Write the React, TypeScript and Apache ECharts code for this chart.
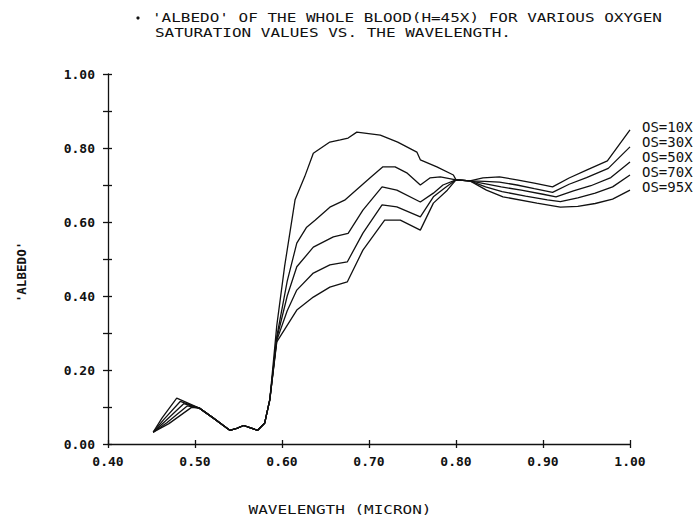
import React, { useEffect, useRef } from "react";
import * as echarts from "echarts";

type P = [number, number];

const seriesNames = ["OS=10X", "OS=30X", "OS=50X", "OS=70X", "OS=95X"];
const xTicks = [0.4, 0.5, 0.6, 0.7, 0.8, 0.9, 1.0];
const titleLines = [
  "'ALBEDO' OF THE WHOLE BLOOD(H=45X) FOR VARIOUS OXYGEN",
  "SATURATION VALUES VS. THE WAVELENGTH.",
];
const xAxisTitle = "WAVELENGTH (MICRON)";
const yAxisTitle = "'ALBEDO'";

// blue-green hump (per curve)
const bump10: P[] = [[0.452, 0.032], [0.47, 0.055], [0.496, 0.099], [0.505, 0.097]];
const bump30: P[] = [[0.452, 0.032], [0.468, 0.058], [0.491, 0.103], [0.505, 0.097]];
const bump50: P[] = [[0.452, 0.032], [0.466, 0.062], [0.487, 0.109], [0.505, 0.097]];
const bump70: P[] = [[0.452, 0.032], [0.464, 0.066], [0.483, 0.115], [0.505, 0.097]];
const bump95: P[] = [[0.452, 0.032], [0.462, 0.07], [0.479, 0.124], [0.505, 0.097]];

// common absorption trough (all curves overlap)
const trough: P[] = [
  [0.52, 0.072], [0.54, 0.037], [0.548, 0.042], [0.556, 0.05], [0.563, 0.044],
  [0.572, 0.037], [0.58, 0.056], [0.586, 0.12],
];

// red rise and shoulder
const rise10: P[] = [
  [0.594, 0.32], [0.603, 0.48], [0.615, 0.66], [0.626, 0.722], [0.636, 0.786],
  [0.655, 0.816], [0.667, 0.822], [0.676, 0.827], [0.686, 0.843], [0.713, 0.835],
  [0.733, 0.816], [0.755, 0.789], [0.759, 0.768], [0.778, 0.749], [0.797, 0.727], [0.8, 0.714],
];
const rise30: P[] = [
  [0.594, 0.29], [0.606, 0.44], [0.617, 0.543], [0.628, 0.585], [0.638, 0.605],
  [0.655, 0.64], [0.672, 0.659], [0.701, 0.719], [0.716, 0.749], [0.73, 0.749],
  [0.744, 0.732], [0.759, 0.7], [0.77, 0.719], [0.782, 0.722], [0.8, 0.714],
];
const rise50: P[] = [
  [0.594, 0.285], [0.606, 0.4], [0.617, 0.479], [0.636, 0.532], [0.659, 0.56],
  [0.676, 0.569], [0.693, 0.632], [0.715, 0.695], [0.732, 0.686], [0.759, 0.654],
  [0.774, 0.678], [0.785, 0.7], [0.8, 0.714],
];
const rise70: P[] = [
  [0.594, 0.28], [0.606, 0.36], [0.617, 0.416], [0.636, 0.462], [0.655, 0.484],
  [0.675, 0.492], [0.693, 0.57], [0.715, 0.646], [0.732, 0.641], [0.759, 0.614],
  [0.774, 0.668], [0.787, 0.692], [0.8, 0.714],
];
const rise95: P[] = [
  [0.594, 0.276], [0.617, 0.362], [0.636, 0.397], [0.655, 0.424], [0.675, 0.438],
  [0.693, 0.524], [0.718, 0.605], [0.736, 0.605], [0.759, 0.578], [0.774, 0.651],
  [0.79, 0.686], [0.8, 0.714],
];

// near-infrared tail
const knot: P[] = [[0.816, 0.711]];
const tail10: P[] = [
  [0.831, 0.719], [0.85, 0.722], [0.87, 0.714], [0.89, 0.705], [0.911, 0.695],
  [0.93, 0.719], [0.95, 0.74], [0.974, 0.765], [1.0, 0.849],
];
const tail30: P[] = [
  [0.833, 0.71], [0.85, 0.708], [0.87, 0.7], [0.89, 0.69], [0.911, 0.68],
  [0.93, 0.702], [0.95, 0.72], [0.975, 0.745], [1.0, 0.803],
];
const tail50: P[] = [
  [0.834, 0.703], [0.852, 0.695], [0.875, 0.686], [0.9, 0.675], [0.915, 0.668],
  [0.935, 0.684], [0.955, 0.698], [0.978, 0.72], [1.0, 0.762],
];
const tail70: P[] = [
  [0.834, 0.695], [0.853, 0.682], [0.88, 0.67], [0.905, 0.66], [0.92, 0.655],
  [0.94, 0.665], [0.96, 0.678], [0.98, 0.695], [1.0, 0.727],
];
const tail95: P[] = [
  [0.835, 0.686], [0.854, 0.668], [0.893, 0.651], [0.92, 0.64], [0.94, 0.642],
  [0.96, 0.65], [0.98, 0.662], [1.0, 0.686],
];

const curves: P[][] = [
  [...bump10, ...trough, ...rise10, ...knot, ...tail10],
  [...bump30, ...trough, ...rise30, ...knot, ...tail30],
  [...bump50, ...trough, ...rise50, ...knot, ...tail50],
  [...bump70, ...trough, ...rise70, ...knot, ...tail70],
  [...bump95, ...trough, ...rise95, ...knot, ...tail95],
];

const MONO = '"DejaVu Sans Mono", "Liberation Mono", monospace';
const INK = "#111";

export default function App() {
  const ref = useRef<HTMLDivElement>(null);
  useEffect(() => {
    if (!ref.current) return;
    const chart = echarts.init(ref.current, undefined, { renderer: "svg" });
    const axisText = { fontFamily: MONO, fontSize: 13, fontWeight: "bold" as const, color: INK };
    const stretch = 1.23;
    chart.setOption({
      animation: false,
      backgroundColor: "#fff",
      grid: { left: 108, top: 74, width: 522, height: 370, containLabel: false },
      legend: {
        orient: "vertical",
        left: 632,
        top: 114,
        icon: "rect",
        itemWidth: 0,
        itemHeight: 0,
        itemGap: 0,
        selectedMode: false,
        data: seriesNames,
        textStyle: { fontFamily: MONO, fontSize: 14, lineHeight: 15, color: INK },
      },
      xAxis: [
        {
          type: "value",
          min: 0.4,
          max: 1.0,
          interval: 0.1,
          position: "bottom",
          axisLine: { show: true, onZero: false, lineStyle: { color: INK, width: 1.3 } },
          axisTick: { show: true, inside: false, length: 4, lineStyle: { color: INK, width: 1.3 } },
          axisLabel: {
            ...axisText,
            margin: 11,
            showMaxLabel: true,
            showMinLabel: true,
            formatter: (v: number) => {
              const t = xTicks.find((x) => Math.abs(x - v) < 1e-6);
              return t === undefined ? "" : t.toFixed(2);
            },
          },
          splitLine: { show: false },
        },
        {
          type: "value",
          min: 0.4,
          max: 1.0,
          interval: 0.1,
          position: "bottom",
          axisLine: { show: false, onZero: false },
          axisTick: { show: true, inside: true, length: 4, lineStyle: { color: INK, width: 1.3 } },
          axisLabel: { show: false },
          splitLine: { show: false },
        },
      ],
      yAxis: [
        {
          type: "value",
          min: 0,
          max: 1,
          interval: 0.1,
          position: "left",
          axisLine: { show: true, onZero: false, lineStyle: { color: INK, width: 1.3 } },
          axisTick: { show: true, inside: false, length: 5, lineStyle: { color: INK, width: 1.3 } },
          axisLabel: {
            ...axisText,
            margin: 13,
            formatter: (v: number) => (Math.round(v * 10) % 2 === 0 ? v.toFixed(2) : ""),
          },
          splitLine: { show: false },
        },
        {
          type: "value",
          min: 0,
          max: 1,
          interval: 0.1,
          position: "left",
          axisLine: { show: false, onZero: false },
          axisTick: { show: true, inside: true, length: 4, lineStyle: { color: INK, width: 1.3 } },
          axisLabel: { show: false },
          splitLine: { show: false },
        },
      ],
      series: seriesNames.map((name, i) => ({
        name,
        type: "line",
        xAxisIndex: 0,
        yAxisIndex: 0,
        data: curves[i],
        showSymbol: false,
        symbol: "none",
        smooth: false,
        color: INK,
        lineStyle: { color: INK, width: 1.3 },
      })),
      graphic: [
        { type: "circle", shape: { cx: 138, cy: 18, r: 1.6 }, style: { fill: INK } },
        ...titleLines.map((t, i) => ({
          type: "text",
          x: i === 0 ? 152 : 155,
          y: i === 0 ? 17 : 32,
          scaleX: stretch,
          style: {
            text: t,
            font: `normal 13px ${MONO}`,
            fill: INK,
            textAlign: "left",
            textVerticalAlign: "middle",
          },
        })),
        {
          type: "text",
          x: 340,
          y: 509,
          scaleX: stretch,
          style: {
            text: xAxisTitle,
            font: `normal 13px ${MONO}`,
            fill: INK,
            textAlign: "center",
            textVerticalAlign: "middle",
          },
        },
        {
          type: "text",
          x: 22,
          y: 272,
          rotation: Math.PI / 2,
          scaleX: 1.05,
          style: {
            text: yAxisTitle,
            font: `bold 12px ${MONO}`,
            fill: INK,
            textAlign: "center",
            textVerticalAlign: "middle",
          },
        },
      ],
    });
    return () => chart.dispose();
  }, []);
  return (
    <div
      ref={ref}
      style={{ position: "fixed", left: 0, top: 0, width: 695, height: 519, background: "#fff" }}
    />
  );
}
